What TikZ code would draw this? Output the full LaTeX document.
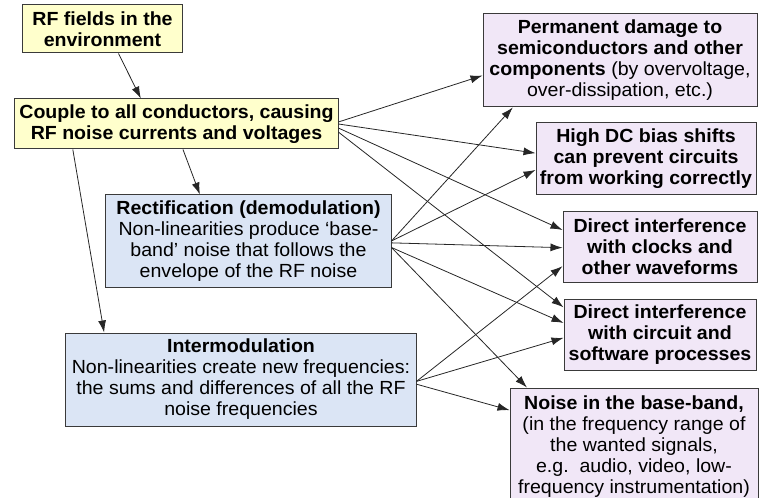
\documentclass[tikz,border=0pt]{standalone}
\usepackage{fontspec}
\setmainfont{Liberation Sans}[FakeStretch=1.03]
\usetikzlibrary{arrows.meta,calc}
\definecolor{ylw}{HTML}{FFFFCC}
\definecolor{blu}{HTML}{DBE5F5}
\definecolor{lav}{HTML}{F1E7F7}
\definecolor{edgec}{HTML}{3A3A3A}
\begin{document}
\begin{tikzpicture}[x=1bp,y=-1bp,
  box/.style={draw=edgec,line width=1bp,inner sep=0pt,align=center,
    font=\fontsize{19bp}{21bp}\selectfont},
  yb/.style={box,fill=ylw},
  bb/.style={box,fill=blu},
  pb/.style={box,fill=lav},
  arr/.style={draw=black!85,line width=0.8bp,-{Latex[length=12bp,width=8bp]}}]
\clip (0,0) rectangle (764,498);
% sources
\node[yb,minimum width=159bp,minimum height=48bp] (rf) at (102.5,29)
  {\textbf{RF fields in the}\\\textbf{environment}};
\node[yb,minimum width=323bp,minimum height=50bp] (couple) at (176.5,124)
  {\textbf{Couple to all conductors, causing}\\\textbf{RF noise currents and voltages}};
\node[bb,minimum width=285bp,minimum height=92bp] (rect) at (248.5,241)
  {\textbf{Rectification (demodulation)}\\Non-linearities produce ‘base-\\band’ noise that follows the\\envelope of the RF noise};
\node[bb,minimum width=350bp,minimum height=93bp] (inter) at (241,379.5)
  {\textbf{Intermodulation}\\Non-linearities create new frequencies:\\the sums and differences of all the RF\\noise frequencies};
% effects
\node[pb,minimum width=274bp,minimum height=93bp] (perm) at (620,60.5)
  {\textbf{Permanent damage to}\\\textbf{semiconductors and other}\\\textbf{components} (by overvoltage,\\over-dissipation, etc.)};
\node[pb,minimum width=220bp,minimum height=72bp] (dc) at (646,159)
  {\textbf{High DC bias shifts}\\\textbf{can prevent circuits}\\\textbf{from working correctly}};
\node[pb,minimum width=194bp,minimum height=70bp] (clk) at (660,247)
  {\textbf{Direct interference}\\\textbf{with clocks and}\\\textbf{other waveforms}};
\node[pb,minimum width=192bp,minimum height=70bp] (cir) at (660,335)
  {\textbf{Direct interference}\\\textbf{with circuit and}\\\textbf{software processes}};
\node[pb,minimum width=248bp,minimum height=118bp] (noise) at (634,447)
  {\textbf{Noise in the base-band,}\\(in the frequency range of\\the wanted signals,\\e.g.\ \ audio, video, low-\\frequency instrumentation)};
% vertical chain
\draw[arr] ($(rf.south west)!0.6!(rf.south east)$) -- ($(couple.north west)!0.39!(couple.north east)$);
\draw[arr] ($(couple.south west)!0.52!(couple.south east)$) -- ($(rect.north west)!0.33!(rect.north east)$);
\draw[arr] ($(couple.south west)!0.18!(couple.south east)$) -- ($(inter.north west)!0.11!(inter.north east)$);
% from couple
\draw[arr] ($(couple.north east)!0.46!(couple.south east)$) -- ($(perm.north west)!0.66!(perm.south west)$);
\draw[arr] ($(couple.north east)!0.50!(couple.south east)$) -- ($(dc.north west)!0.42!(dc.south west)$);
\draw[arr] ($(couple.north east)!0.58!(couple.south east)$) -- ($(clk.north west)!0.26!(clk.south west)$);
\draw[arr] ($(couple.north east)!0.66!(couple.south east)$) -- ($(cir.north west)!0.11!(cir.south west)$);
% from rectification
\draw[arr] ($(rect.north east)!0.50!(rect.south east)$) -- ($(perm.south west)!0.11!(perm.south east)$);
\draw[arr] ($(rect.north east)!0.50!(rect.south east)$) -- ($(dc.north west)!0.65!(dc.south west)$);
\draw[arr] ($(rect.north east)!0.52!(rect.south east)$) -- ($(clk.north west)!0.51!(clk.south west)$);
\draw[arr] ($(rect.north east)!0.57!(rect.south east)$) -- ($(cir.north west)!0.33!(cir.south west)$);
\draw[arr] ($(rect.north east)!0.57!(rect.south east)$) -- ($(noise.north west)!0.07!(noise.north east)$);
% from intermodulation
\draw[arr] ($(inter.north east)!0.52!(inter.south east)$) -- ($(clk.north west)!0.77!(clk.south west)$);
\draw[arr] ($(inter.north east)!0.52!(inter.south east)$) -- ($(cir.north west)!0.54!(cir.south west)$);
\draw[arr] ($(inter.north east)!0.55!(inter.south east)$) -- ($(noise.north west)!0.19!(noise.south west)$);
\end{tikzpicture}
\end{document}
